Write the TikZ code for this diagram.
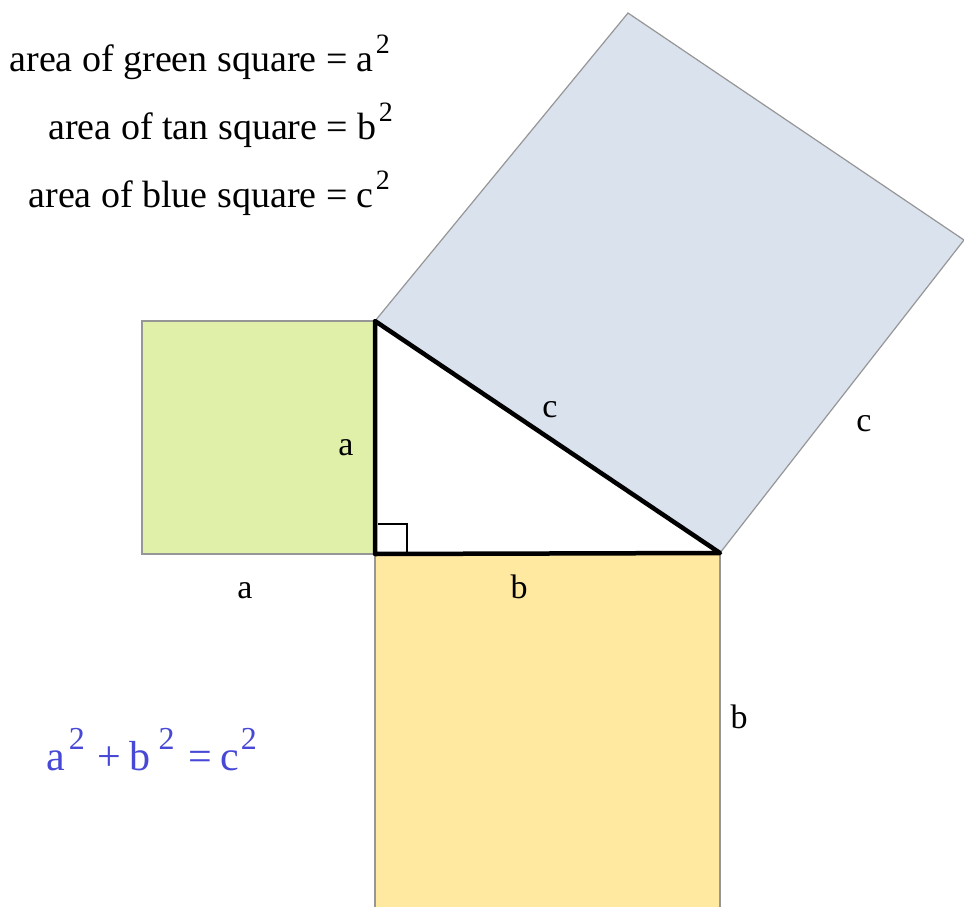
\documentclass[tikz,border=0pt]{standalone}
\usepackage{fontspec}
\setmainfont{Liberation Serif}
\definecolor{greenfill}{RGB}{224,240,168}
\definecolor{tanfill}{RGB}{255,232,160}
\definecolor{bluefill}{RGB}{218,226,238}
\definecolor{edgegray}{RGB}{150,150,150}
\definecolor{formulablue}{RGB}{72,72,214}
\newcommand{\sqr}{\hspace{2pt}\raisebox{0.47em}{\fontsize{28}{32}\selectfont 2}}
\newcommand{\fsqr}{\raisebox{0.5em}{\fontsize{32}{36}\selectfont 2}}
\tikzset{
  sqgreen/.style={fill=greenfill,draw=edgegray,line width=1.2pt},
  sqtan/.style={fill=tanfill,draw=edgegray,line width=1.8pt},
  sqblue/.style={fill=bluefill,draw=edgegray,line width=1.2pt},
  leg/.style={draw=black,line width=4.5pt,line cap=round,line join=round},
  txt/.style={inner sep=0pt,font=\fontsize{38}{44}\selectfont},
  ftxt/.style={inner sep=0pt,font=\fontsize{42}{48}\selectfont},
  lbl/.style={inner sep=0pt,anchor=base,font=\fontsize{34}{40}\selectfont}
}
\begin{document}
\begin{tikzpicture}[x=1pt,y=-1pt]
\useasboundingbox (0,0) rectangle (964,907);
\coordinate (T) at (375,321);
\coordinate (C) at (375,554);
\coordinate (R) at (720,553);
\coordinate (B1) at (628,13);
\coordinate (B2) at (964,240);
\coordinate (G1) at (142,321);
\coordinate (G2) at (142,554);
\coordinate (D1) at (375,912);
\coordinate (D2) at (720,912);
% squares
\begin{scope}
\clip (0,0) rectangle (964,907);
\path[sqblue] (T) -- (B1) -- (B2) -- (R) -- cycle;
\path[sqtan] (C) -- (R) -- (D2) -- (D1) -- cycle;
\end{scope}
\path[sqgreen] (G1) -- (T) -- (C) -- (G2) -- cycle;
% right angle mark
\draw[line width=1.3pt] (C) ++(3,-30) -- ++(29,0) -- ++(0,30);
% triangle
\draw[leg] (T) -- (C) -- (R) -- cycle;
% texts
\node[txt,anchor=base east] (t1) at (390,71) {area of green square = a\sqr};
\node[txt,anchor=base east] (t2) at (393,139) {area of tan square = b\sqr};
\node[txt,anchor=base east] (t3) at (390,207) {area of blue square = c\sqr};
\node[ftxt,anchor=base west,text=formulablue] (f) at (46,770)
  {a\hspace{4pt}\fsqr\hspace{13pt}+\hspace{8pt}b\hspace{8pt}\fsqr\hspace{14pt}=\hspace{8pt}c\hspace{2pt}\fsqr};
% labels
\node[lbl] (la1) at (346,455) {a};
\node[lbl] (la2) at (245,598) {a};
\node[lbl] (lb1) at (519,598) {b};
\node[lbl] (lc1) at (550,417) {c};
\node[lbl] (lc2) at (864,431) {c};
\node[lbl] (lb2) at (739,728) {b};
\end{tikzpicture}
\end{document}
